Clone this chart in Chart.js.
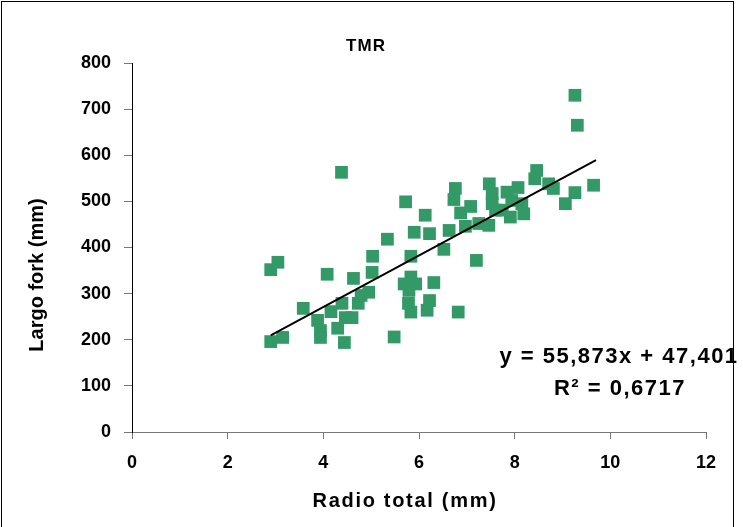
<!DOCTYPE html>
<html>
<head>
<meta charset="utf-8">
<script src="https://cdn.jsdelivr.net/npm/chart.js@4.4.1/dist/chart.umd.min.js"></script>
<style>
  body { margin: 0; background: #fff; }
  #frame { position: absolute; left: 1px; top: 1px; width: 731px; height: 600px; border: 1px solid #000; }
  #wrap { position: absolute; left: 0; top: 0; width: 743px; height: 527px; }
</style>
</head>
<body>
<div id="frame"></div>
<div id="wrap"><canvas id="myChart" width="743" height="527"></canvas></div>
<script>
// TMR samples: radio total (mm) vs largo fork (mm)
const radioTotal = [
  2.9, 2.9, 3.05, 3.15, 3.58, 3.88, 3.94, 3.94, 4.08, 4.16,
  4.3, 4.39, 4.44, 4.46, 4.6, 4.63, 4.73, 4.79, 4.95, 5.02,
  5.03, 4.38, 5.34, 5.83, 6.52, 5.9, 6.22, 6.63, 5.83, 5.69,
  5.93, 5.79, 6.31, 5.78, 5.83, 6.22, 6.17, 6.82, 5.48, 5.72,
  6.13, 6.76, 6.73, 7.08, 6.87, 6.97, 7.25, 7.2, 7.47, 8.46,
  8.42, 8.07, 8.71, 8.81, 9.65, 9.26, 9.06, 7.53, 7.53, 7.6,
  7.84, 7.94, 8.15, 8.19, 7.91, 7.74, 7.46, 9.26, 9.31
];
const largoFork = [
  196, 352, 368, 205, 268, 242, 220, 205, 342, 261,
  225, 279, 194, 248, 248, 333, 279, 296, 303, 346,
  381, 563, 418, 381, 396, 433, 430, 437, 336, 321,
  321, 307, 324, 279, 260, 285, 264, 260, 206, 499,
  470, 528, 504, 489, 475, 446, 452, 372, 538, 567,
  549, 530, 538, 528, 535, 519, 495, 517, 495, 481,
  520, 502, 495, 473, 466, 481, 448, 730, 665
];

// linear trend endpoints
const trendX = [2.9, 9.7];
const trendY = [209.4, 589.4];

const xTicks = [0, 2, 4, 6, 8, 10, 12];
const yTicks = [0, 100, 200, 300, 400, 500, 600, 700, 800];

const fontFamily = '"Liberation Sans", Arial, sans-serif';

const textPlugin = {
  id: 'texts',
  afterDraw(chart) {
    const c = chart.ctx;
    c.save();
    c.fillStyle = '#000';
    c.textAlign = 'center';
    c.textBaseline = 'middle';

    c.font = 'bold 17px ' + fontFamily;
    c.letterSpacing = '1px';
    c.fillText('TMR', 366, 46);

    c.font = 'bold 22px ' + fontFamily;
    c.letterSpacing = '1.5px';
    c.fillText('y = 55,873x + 47,401', 619, 357);
    c.fillText('R² = 0,6717', 620, 389);

    c.font = 'bold 20px ' + fontFamily;
    c.letterSpacing = '1.7px';
    c.fillText('Radio total (mm)', 405, 501);

    c.translate(37, 275);
    c.rotate(-Math.PI / 2);
    c.letterSpacing = '0px';
    c.fillText('Largo fork (mm)', 0, 0);
    c.restore();
  }
};

const ctx = document.getElementById('myChart');

new Chart(ctx, {
  type: 'scatter',
  data: {
    datasets: [
      {
        label: 'trend',
        type: 'line',
        data: trendX.map((x, i) => ({ x: x, y: trendY[i] })),
        borderColor: '#000',
        borderWidth: 2,
        pointRadius: 0,
        fill: false,
        order: 0
      },
      {
        label: 'TMR',
        data: radioTotal.map((x, i) => ({ x: x, y: largoFork[i] })),
        backgroundColor: '#339966',
        borderWidth: 0,
        pointStyle: 'rect',
        pointRadius: 9,
        order: 1
      }
    ]
  },
  options: {
    responsive: false,
    animation: false,
    layout: { padding: { top: 63, right: 37, left: 0, bottom: 0 } },
    plugins: {
      legend: { display: false },
      tooltip: { enabled: false },
      title: { display: false }
    },
    scales: {
      x: {
        type: 'linear',
        min: 0,
        max: 12,
        afterBuildTicks(scale) { scale.ticks = xTicks.map(v => ({ value: v })); },
        afterFit(scale) { scale.height = 95; },
        ticks: { padding: 13, color: '#000', font: { family: fontFamily, size: 18, weight: 'bold' } },
        grid: { drawOnChartArea: false, drawTicks: true, tickLength: 7, tickColor: '#777' },
        border: { color: '#777', width: 1 }
      },
      y: {
        min: 0,
        max: 800,
        afterBuildTicks(scale) { scale.ticks = yTicks.map(v => ({ value: v })); },
        afterFit(scale) { scale.width = 132; },
        ticks: { padding: 13, color: '#000', font: { family: fontFamily, size: 18, weight: 'bold' } },
        grid: { drawOnChartArea: false, drawTicks: true, tickLength: 8, tickColor: '#777' },
        border: { color: '#000', width: 1 }
      }
    }
  },
  plugins: [textPlugin]
});
</script>
</body>
</html>
